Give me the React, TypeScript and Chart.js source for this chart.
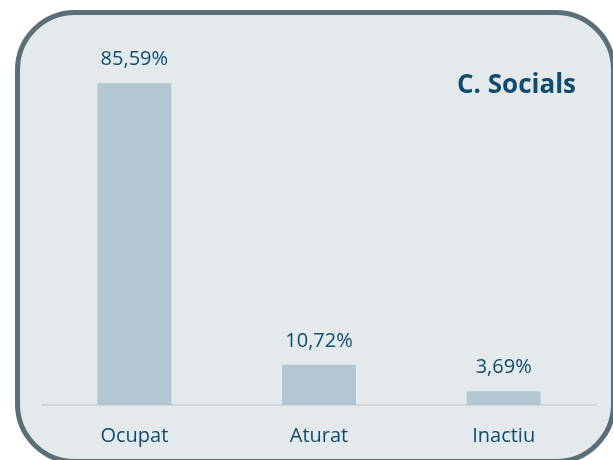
import React, { useEffect, useRef } from "react";
import { Chart, registerables } from "chart.js";

Chart.register(...registerables);

const categories = ["Ocupat", "Aturat", "Inactiu"];
const values = [85.59, 10.72, 3.69];
const chartTitle = "C. Socials";

const TEXT = "#0f4c6e";
const FONT = "'Open Sans', 'Noto Sans', sans-serif";

const fmt = (v: number) => v.toFixed(2).replace(".", ",") + "%";

const labelsPlugin = {
  id: "valueLabels",
  afterDatasetsDraw(chart: any) {
    const ctx = chart.ctx;
    const meta = chart.getDatasetMeta(0);
    ctx.save();
    ctx.font = `20px ${FONT}`;
    ctx.fillStyle = TEXT;
    ctx.textAlign = "center";
    ctx.textBaseline = "alphabetic";
    meta.data.forEach((bar: any, i: number) => {
      ctx.fillText(fmt(values[i]), bar.x, bar.y - 18);
    });
    ctx.font = `bold 26px ${FONT}`;
    ctx.textAlign = "right";
    ctx.fillText(chartTitle, 576, 93);
    ctx.restore();
  },
};

export default function App() {
  const ref = useRef<HTMLCanvasElement>(null);
  useEffect(() => {
    if (!ref.current) return;
    const chart = new Chart(ref.current, {
      type: "bar",
      data: {
        labels: categories,
        datasets: [
          {
            data: values,
            backgroundColor: "#b2c7d2",
            borderWidth: 0,
            barPercentage: 0.4,
            categoryPercentage: 1.0,
          },
        ],
      },
      options: {
        animation: false,
        responsive: false,
        devicePixelRatio: 1,
        layout: { padding: { left: 42, right: 17, top: 29, bottom: -7 } },
        plugins: {
          legend: { display: false },
          tooltip: { enabled: false },
          title: { display: false },
        },
        scales: {
          x: {
            grid: { display: false, drawTicks: false },
            border: { display: true, color: "#d2d5d7", width: 2 },
            ticks: {
              padding: 19,
              color: TEXT,
              font: { family: FONT, size: 20 },
            },
          },
          y: {
            display: false,
            min: 0,
            max: 100,
          },
        },
      },
      plugins: [labelsPlugin],
    });
    return () => chart.destroy();
  }, []);

  return (
    <div
      style={{
        position: "fixed",
        left: 0,
        top: 0,
        width: 613,
        height: 460,
        overflow: "hidden",
        background: "#ffffff",
      }}
    >
      <div
        style={{
          position: "absolute",
          left: 15,
          top: 10,
          width: 601,
          height: 454,
          boxSizing: "border-box",
          border: "5px solid #5b6f78",
          borderRadius: 60,
          background: "#e4e9ec",
        }}
      />
      <canvas
        ref={ref}
        width={613}
        height={460}
        style={{ position: "absolute", left: 0, top: 0, width: 613, height: 460 }}
      />
    </div>
  );
}
